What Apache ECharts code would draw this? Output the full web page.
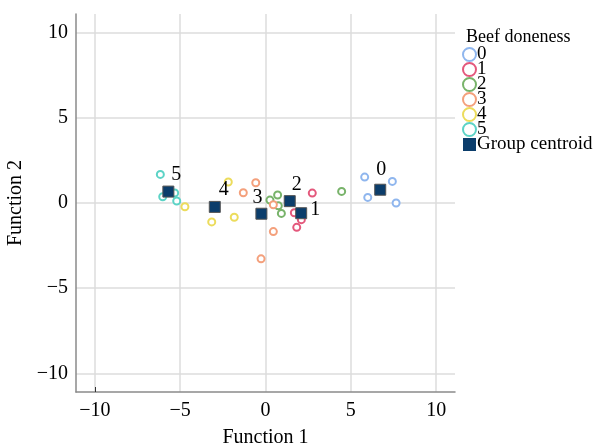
<!DOCTYPE html>
<html>
<head>
<meta charset="utf-8">
<script src="https://cdn.jsdelivr.net/npm/echarts@6/dist/echarts.min.js"></script>
<style>
  html, body { margin: 0; padding: 0; background: #fff; }
  #chart { width: 596px; height: 445px; }
</style>
</head>
<body>
<div id="chart"></div>
<script>
// groups of beef doneness
const groups = ['0', '1', '2', '3', '4', '5']
const groupColors = ['#8fb6ee', '#e4587c', '#78b36a', '#f4a07c', '#ecdc5c', '#5cd3c6']

// discriminant scores per group: [function 1, function 2]
const scores0 = [[5.81, 1.52], [7.43, 1.27], [5.99, 0.33], [7.65, 0.0]]
const scores1 = [[2.74, 0.58], [1.69, -0.57], [2.1, -0.98], [1.83, -1.43]]
const scores2 = [[0.26, 0.17], [0.71, 0.47], [0.75, -0.16], [0.93, -0.61], [4.46, 0.68]]
const scores3 = [[-1.3, 0.6], [-0.57, 1.19], [0.46, -0.1], [0.46, -1.68], [-0.26, -3.28]]
const scores4 = [[-4.72, -0.22], [-2.18, 1.23], [-3.15, -1.11], [-1.83, -0.84]]
const scores5 = [[-6.16, 1.68], [-6.02, 0.37], [-5.32, 0.59], [-5.2, 0.12]]
const allScores = [scores0, scores1, scores2, scores3, scores4, scores5]

// group centroids
const centroids = [[6.72, 0.78], [2.09, -0.6], [1.42, 0.11], [-0.24, -0.63], [-2.97, -0.23], [-5.69, 0.67]]
const centroidLabelPos = [[1, -20], [14, -3], [7, -16], [-4, -16], [9, -17], [8, -17]]

// tick values
const ticks = [-10, -5, 0, 5, 10]

const font = '"Liberation Serif", "Times New Roman", serif'

const chart = echarts.init(document.getElementById('chart'))

const series = groups.map((g, i) => ({
  name: g,
  type: 'scatter',
  symbol: 'emptyCircle',
  symbolSize: 7,
  itemStyle: { color: groupColors[i], borderWidth: 1.4, opacity: 1 },
  data: allScores[i],
  z: 2
}))

series.push({
  name: 'Group centroid',
  type: 'scatter',
  symbol: 'rect',
  symbolSize: 11,
  itemStyle: { color: '#0b3d6b', borderColor: '#555', borderWidth: 1, opacity: 1 },
  data: centroids.map((c, i) => ({
    value: c,
    name: groups[i],
    label: { offset: centroidLabelPos[i] }
  })),
  label: {
    show: true,
    position: 'inside',
    formatter: p => p.name,
    color: '#000',
    fontFamily: font,
    fontSize: 20
  },
  z: 3
})

// grid lines at tick values
series.push({
  type: 'scatter',
  data: [],
  silent: true,
  z: 0,
  markLine: {
    silent: true,
    z: 0,
    symbol: 'none',
    label: { show: false },
    emphasis: { disabled: true },
    lineStyle: { color: '#dcdcdc', width: 1.5, type: 'solid' },
    data: ticks.map(t => ({ xAxis: t })).concat(ticks.map(t => ({ yAxis: t })))
  }
})

const axisCommon = {
  type: 'value',
  min: -11.1,
  max: 11.1,
  nameLocation: 'middle',
  nameTextStyle: { fontFamily: font, fontSize: 20, color: '#000' },
  axisLine: { show: true, onZero: false, lineStyle: { color: '#8a8a8a', width: 1.5 } },
  axisLabel: {
    fontFamily: font, fontSize: 20, color: '#000',
    customValues: ticks,
    formatter: v => String(v).replace('-', '\u2212')
  },
  splitLine: { show: false }
}

chart.setOption({
  animation: false,
  grid: { left: 76, right: 141, top: 14, bottom: 53, outerBoundsMode: 'none', containLabel: false },
  title: {
    text: 'Beef doneness',
    left: 461, top: 23,
    textStyle: { fontFamily: font, fontSize: 18, fontWeight: 'normal', color: '#000' }
  },
  legend: {
    orient: 'vertical',
    left: 462, top: 45,
    itemWidth: 13, itemHeight: 13,
    itemGap: -4,
    padding: 0,
    textStyle: { fontFamily: font, fontSize: 19, color: '#000', padding: [0, 0, 0, -4] },
    data: groups.map(g => ({ name: g, icon: 'emptyCircle' }))
      .concat([{ name: 'Group centroid', icon: 'rect', itemStyle: { borderWidth: 0 } }])
  },
  xAxis: Object.assign({}, axisCommon, {
    name: 'Function 1',
    nameGap: 36,
    axisLabel: Object.assign({}, axisCommon.axisLabel, { margin: 9 }),
    axisTick: { show: true, inside: true, length: 5, customValues: [-10], lineStyle: { color: '#333' } }
  }),
  yAxis: Object.assign({}, axisCommon, {
    name: 'Function 2',
    nameGap: 45,
    axisTick: { show: false }
  }),
  series: series
})
</script>
</body>
</html>
